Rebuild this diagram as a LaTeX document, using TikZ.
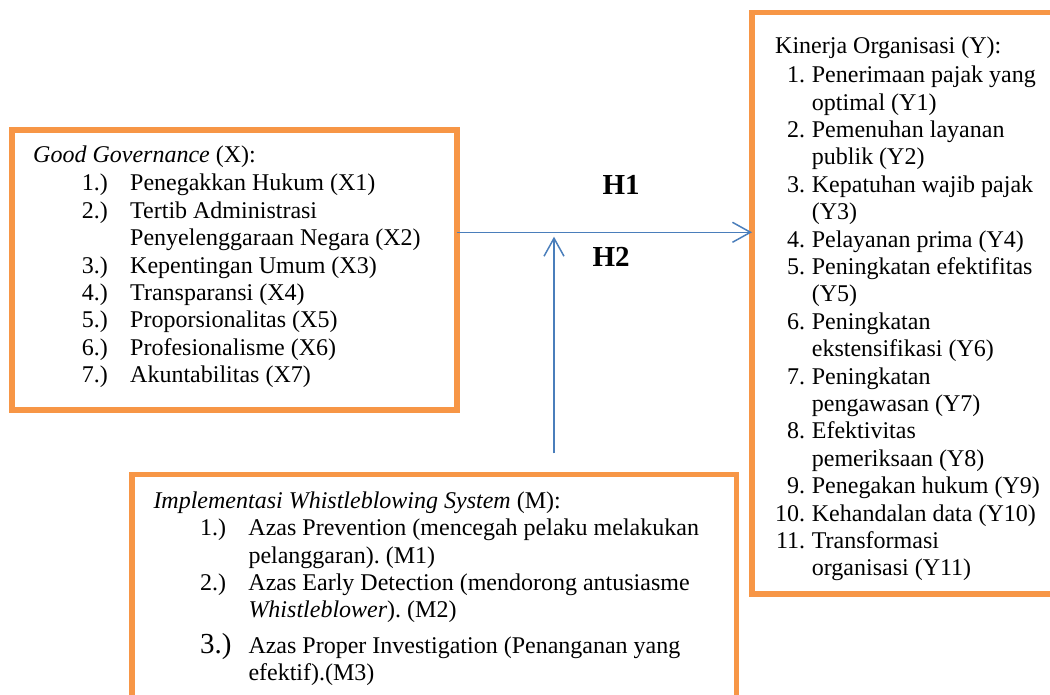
\documentclass[tikz,border=0pt]{standalone}
\usepackage{fontspec}
\setmainfont{Liberation Serif}
\usetikzlibrary{arrows.meta}
\definecolor{boxorange}{HTML}{F79646}
\definecolor{arrowblue}{HTML}{4A7EBB}
\newcommand{\nr}[2]{\makebox[#1][l]{#2}}
\newcommand{\rnr}[1]{\makebox[30pt][r]{#1}\hspace*{6.7pt}}
\frenchspacing

\begin{document}
\begin{tikzpicture}[x=1pt, y=-1pt,
    varbox/.style={rectangle, draw=boxorange, line width=5.3pt, anchor=north west, inner sep=0pt, outer sep=0pt},
    listtext/.style={anchor=base west, inner sep=0pt, font=\fontsize{24}{27.4}\selectfont},
    hyp/.style={anchor=base west, inner sep=0pt, font=\fontsize{29}{34}\selectfont\bfseries},
    link/.style={draw=arrowblue, line width=1.5pt, -{Straight Barb[length=18pt, width=20pt]}}]
  \useasboundingbox (0,0) rectangle (1050,695);
  \clip (0,0) rectangle (1050,695);

  % Variable boxes
  \node[varbox, minimum width=445pt, minimum height=280pt] (gg) at (12,130) {};
  \node[varbox, minimum width=310pt, minimum height=581.5pt] (ko) at (752,12.5) {};
  \node[varbox, minimum width=604.7pt, minimum height=240pt] (ws) at (132,474.5) {};

  % Good Governance (X)
  \node[listtext] (ggtext) at (33,162.7) {\begin{tabular}[t]{@{}l@{}}
    \textit{Good Governance} (X):\\[0.8pt]
    \hspace*{48.7pt}\nr{48.3pt}{1.)}Penegakkan Hukum (X1)\\
    \hspace*{48.7pt}\nr{48.3pt}{2.)}Tertib Administrasi\\
    \hspace*{97pt}Penyelenggaraan Negara (X2)\\
    \hspace*{48.7pt}\nr{48.3pt}{3.)}Kepentingan Umum (X3)\\
    \hspace*{48.7pt}\nr{48.3pt}{4.)}Transparansi (X4)\\
    \hspace*{48.7pt}\nr{48.3pt}{5.)}Proporsionalitas (X5)\\
    \hspace*{48.7pt}\nr{48.3pt}{6.)}Profesionalisme (X6)\\
    \hspace*{48.7pt}\nr{48.3pt}{7.)}Akuntabilitas (X7)
  \end{tabular}};

  % Kinerja Organisasi (Y)
  \node[listtext] (kotext) at (775,53.3) {\begin{tabular}[t]{@{}l@{}}
    Kinerja Organisasi (Y):\\[2pt]
    \rnr{1.}Penerimaan pajak yang\\
    \hspace*{36.7pt}optimal (Y1)\\
    \rnr{2.}Pemenuhan layanan\\
    \hspace*{36.7pt}publik (Y2)\\
    \rnr{3.}Kepatuhan wajib pajak\\
    \hspace*{36.7pt}(Y3)\\
    \rnr{4.}Pelayanan prima (Y4)\\
    \rnr{5.}Peningkatan efektifitas\\
    \hspace*{36.7pt}(Y5)\\
    \rnr{6.}Peningkatan\\
    \hspace*{36.7pt}ekstensifikasi (Y6)\\
    \rnr{7.}Peningkatan\\
    \hspace*{36.7pt}pengawasan (Y7)\\
    \rnr{8.}Efektivitas\\
    \hspace*{36.7pt}pemeriksaan (Y8)\\
    \rnr{9.}Penegakan hukum (Y9)\\
    \rnr{10.}Kehandalan data (Y10)\\
    \rnr{11.}Transformasi\\
    \hspace*{36.7pt}organisasi (Y11)
  \end{tabular}};

  % Implementasi Whistleblowing System (M)
  \node[listtext] (wstext) at (153.3,508.3) {\begin{tabular}[t]{@{}l@{}}
    \textit{Implementasi Whistleblowing System} (M):\\
    \hspace*{46.7pt}\nr{48.3pt}{1.)}Azas Prevention (mencegah pelaku melakukan\\
    \hspace*{95pt}pelanggaran). (M1)\\
    \hspace*{46.7pt}\nr{48.3pt}{2.)}Azas Early Detection (mendorong antusiasme\\
    \hspace*{95pt}\textit{Whistleblower}). (M2)\\[7pt]
    \hspace*{46.7pt}\nr{48.3pt}{\fontsize{29}{34}\selectfont 3.)}Azas Proper Investigation (Penanganan yang\\
    \hspace*{95pt}efektif).(M3)
  \end{tabular}};

  % Hypotheses
  \node[hyp] (h1) at (602.3,195) {H1};
  \node[hyp] (h2) at (592.3,266.7) {H2};

  % Paths
  \coordinate (hline) at (0,232.3);
  \draw[link] (gg.east |- hline) -- (ko.west |- hline);
  \coordinate (wsfoot) at (554,453.3);
  \coordinate (wshead) at (554,236.7);
  \draw[link] (wsfoot) -- (wshead);
\end{tikzpicture}
\end{document}
